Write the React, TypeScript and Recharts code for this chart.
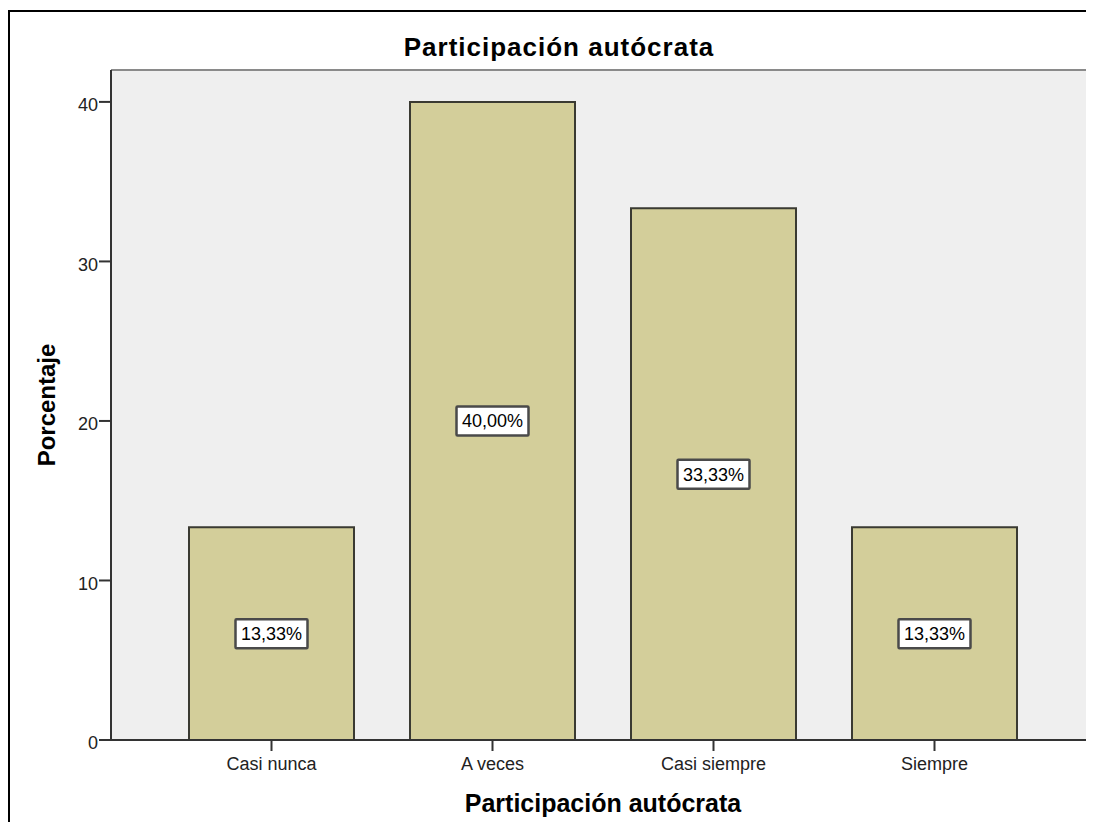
import { BarChart, Bar, XAxis, YAxis, CartesianGrid, LabelList, Label, ReferenceLine } from "recharts";

const categories = ["Casi nunca", "A veces", "Casi siempre", "Siempre"];
const percentages = [13.33, 40.0, 33.33, 13.33];
const yTicks = [0, 10, 20, 30, 40];
const yMax = 42;

const data = categories.map((cat, i) => ({ cat, value: percentages[i] }));

const FONT = "'Liberation Sans', Arial, sans-serif";

const fmt = (v: number) => v.toFixed(2).replace(".", ",") + "%";

function BoxLabel(props: any) {
  const { x, y, width, height, value } = props;
  const cx = Number(x) + Number(width) / 2;
  const cy = Number(y) + Number(height) / 2;
  const w = 72;
  const h = 29;
  return (
    <g>
      <rect x={cx - w / 2} y={cy - h / 2} width={w} height={h} fill="#fff" stroke="#4a4a4a" strokeWidth={2.5} rx={1} />
      <text x={cx} y={cy + 6.5} textAnchor="middle" fontFamily={FONT} fontSize={18} fill="#000">
        {fmt(Number(value))}
      </text>
    </g>
  );
}

function YTitle(props: any) {
  const { viewBox } = props;
  const cy = viewBox.y + viewBox.height / 2;
  const cx = 36;
  return (
    <text
      x={cx}
      y={cy}
      transform={`rotate(-90, ${cx}, ${cy})`}
      textAnchor="middle"
      dominantBaseline="central"
      fontFamily={FONT}
      fontSize={24}
      fontWeight="bold"
      fill="#000"
    >
      Porcentaje
    </text>
  );
}

export default function App() {
  return (
    <div
      style={{
        position: "relative",
        marginTop: 2,
        width: 1086,
        height: 812,
        boxSizing: "border-box",
        borderTop: "2px solid #000",
        borderLeft: "2px solid #000",
        overflow: "hidden",
        background: "#fff",
      }}
    >
      <div
        style={{
          position: "absolute",
          left: 549,
          top: 22,
          transform: "translateX(-50%)",
          whiteSpace: "nowrap",
          fontFamily: FONT,
          fontSize: 26,
          fontWeight: "bold",
          letterSpacing: 1,
          lineHeight: "26px",
          color: "#000",
        }}
      >
        Participación autócrata
      </div>
      <BarChart
        width={1100}
        height={810}
        data={data}
        margin={{ top: 58, right: 15, bottom: 0, left: 0 }}
        barCategoryGap={28}
      >
        <CartesianGrid fill="#EFEFEF" horizontal={false} vertical={false} />
        <ReferenceLine y={yMax} stroke="#8a8a8a" strokeWidth={2} />
        <XAxis
          dataKey="cat"
          height={82}
          padding={{ left: 50, right: 50 }}
          axisLine={{ stroke: "#333", strokeWidth: 2 }}
          tickLine={{ stroke: "#333", strokeWidth: 2 }}
          tickSize={11}
          tickMargin={6}
          tick={{ fontFamily: FONT, fontSize: 18, fill: "#222" }}
        >
          <Label
            value="Participación autócrata"
            position="insideBottom"
            offset={10}
            style={{ fontFamily: FONT, fontSize: 25, fontWeight: "bold", fill: "#000" }}
          />
        </XAxis>
        <YAxis
          width={101}
          domain={[0, yMax]}
          ticks={yTicks}
          interval={0}
          axisLine={{ stroke: "#333", strokeWidth: 2 }}
          tickLine={{ stroke: "#333", strokeWidth: 2 }}
          tickSize={12}
          tickMargin={1}
          tick={{ fontFamily: FONT, fontSize: 18, fill: "#222", dy: 3 }}
        >
          <Label content={<YTitle />} />
        </YAxis>
        <Bar dataKey="value" fill="#D3CE9A" stroke="#3a3a32" strokeWidth={2} isAnimationActive={false}>
          <LabelList dataKey="value" content={<BoxLabel />} />
        </Bar>
      </BarChart>
    </div>
  );
}
